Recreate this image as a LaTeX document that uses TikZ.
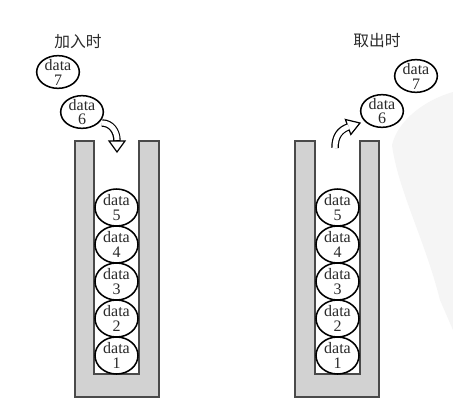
\documentclass[tikz,border=0pt]{standalone}
\usepackage{fontspec}
\setmainfont{Liberation Serif}
\newfontfamily\cjk{Noto Sans CJK SC}
\usetikzlibrary{shapes.geometric}
\definecolor{wallfill}{HTML}{D2D2D2}
\definecolor{wallline}{HTML}{4A4A4A}
\definecolor{ink}{HTML}{2A2A2A}
\tikzset{
  wall/.style={fill=wallfill, draw=wallline, line width=1.2pt},
  dnode/.style={ellipse, draw=black, fill=white, line width=1.15pt, inner sep=-4pt,
    minimum width=32.25pt, minimum height=27.75pt, align=center, text=ink,
    font=\fontsize{12}{11.2}\selectfont},
  fnode/.style={dnode, minimum width=32pt, minimum height=24.5pt},
  title/.style={text=ink, font=\cjk\fontsize{11.8}{12}\selectfont},
  bandout/.style={draw=black, line width=5.6pt},
  bandin/.style={draw=white, line width=3.8pt},
  headst/.style={fill=white, draw=black, line width=0.9pt, line join=miter},
}
\begin{document}
\begin{tikzpicture}[x=0.75pt,y=-0.75pt]
\useasboundingbox[fill=white] (0,0) rectangle (453,404);
% faint background shape
\fill[gray!8] (453,92) .. controls (425,100) and (398,120) .. (392,145)
  .. controls (398,190) and (425,240) .. (440,300) -- (453,330) -- cycle;
% containers
\draw[wall] (75,141) -- (94,141) -- (94,374) -- (139,374) -- (139,141) -- (159,141)
  -- (159,397) -- (75,397) -- cycle;
\draw[wall] (295,141) -- (315,141) -- (315,374) -- (360,374) -- (360,141) -- (379,141)
  -- (379,397) -- (295,397) -- cycle;
% titles
\node[title] (tin) at (78,42) {加入时};
\node[title] (tout) at (377,41) {取出时};
% stacks
\foreach \i/\y in {1/355.5,2/318.5,3/281.5,4/244.5,5/207.5}{
  \node[dnode] (L\i) at (116.5,\y) {data\\\i};
  \node[dnode] (R\i) at (337.5,\y) {data\\\i};
}
% free elements
\node[fnode] (L7) at (58,72) {data\\7};
\node[fnode] (L6) at (82,112) {data\\6};
\node[fnode] (R7) at (416,76) {data\\7};
\node[fnode] (R6) at (382,111) {data\\6};
% left hollow arrow (down)
\coordinate (la) at (102,123);
\coordinate (lb) at (117,141);
\draw[bandout] (la) .. controls (111,123) and (117,131) .. (lb);
\draw[headst] (109,141) -- (125,141) -- (117,152) -- cycle;
\draw[bandin] (la) .. controls (111,123) and (117,131) .. ([yshift=0.8]lb);
% right hollow arrow (up-right)
\coordinate (ra) at (335,148);
\coordinate (rb) at (348,127);
\draw[bandout] (ra) .. controls (335,136) and (340,130) .. (rb);
\draw[headst] (350.8,134.5) -- (345.4,119.5) -- (360,123) -- cycle;
\draw[bandin] (ra) .. controls (335,136) and (340,130) .. (348.8,126.7);
\end{tikzpicture}
\end{document}
